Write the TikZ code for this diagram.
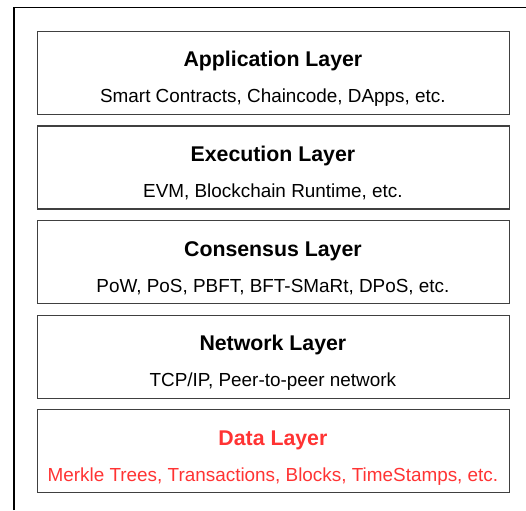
\documentclass[tikz,border=0pt]{standalone}
\usepackage{fontspec}
\setmainfont{Liberation Sans}
\definecolor{boxline}{HTML}{404040}
\definecolor{datared}{HTML}{FF3333}
\begin{document}
\begin{tikzpicture}[x=1pt,y=-1pt,
  layerbox/.style={draw=boxline,line width=1.3pt},
  ttl/.style={anchor=base,inner sep=0pt,font=\fontsize{21.3}{25}\selectfont\bfseries},
  sub/.style={anchor=base,inner sep=0pt,font=\fontsize{18.9}{22}\selectfont}]
\useasboundingbox (0,0) rectangle (526,510);
\draw[line width=1.4pt,black] (14,510) -- (14,7.5) -- (526,7.5);
\foreach \t/\ti/\su/\col [count=\i] in {31/Application Layer/{Smart Contracts, Chaincode, DApps, etc.}/black,
  125.5/Execution Layer/{EVM, Blockchain Runtime, etc.}/black,
  220/Consensus Layer/{PoW, PoS, PBFT, BFT-SMaRt, DPoS, etc.}/black,
  314.5/Network Layer/{TCP/IP, Peer-to-peer network}/black,
  409/Data Layer/{Merkle Trees, Transactions, Blocks, TimeStamps, etc.}/datared}{
  \node[layerbox,minimum width=472.3pt,minimum height=83pt,inner sep=0pt,anchor=north west] (box\i) at (36.7,\t) {};
  \node[ttl,text=\col] (title\i) at (272.9,\t+36) {\ti};
  \node[sub,text=\col] (sub\i) at (272.9,\t+72) {\su};
}
\end{tikzpicture}
\end{document}
